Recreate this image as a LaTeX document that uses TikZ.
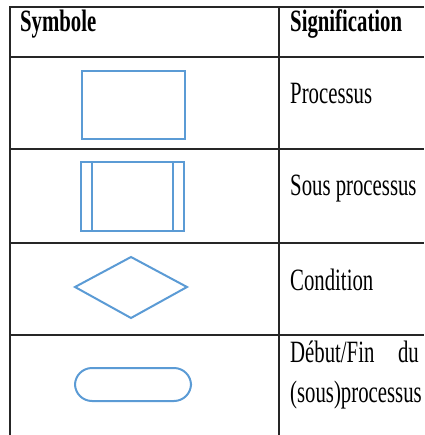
\documentclass[tikz,border=0pt]{standalone}
\usepackage{fontspec}
\setmainfont[FakeStretch=0.67]{Liberation Serif}
\definecolor{symblue}{HTML}{5B9BD5}
\definecolor{rule}{gray}{0.15}
\tikzset{
  gridline/.style={draw=rule, line width=1.4pt},
  symbol/.style={draw=symblue, line width=2pt, line join=miter},
  cell/.style={anchor=base west, inner sep=0pt, font=\fontsize{31}{36}\selectfont},
  head/.style={cell, font=\fontsize{31}{36}\selectfont\bfseries},
}
\begin{document}
\begin{tikzpicture}[x=1pt, y=-1pt]
  \useasboundingbox (0,0) rectangle (424,435);
  % table frame
  \draw[gridline] (424,7) -- (10,7) -- (10,435);
  \draw[gridline] (279,7) -- (279,435);
  \foreach \yy in {57,149,243,335}
    \draw[gridline] (10,\yy) -- (424,\yy);

  % header
  \node[head] (hsym) at (20,32) {Symbole};
  \node[head] (hsig) at (290,32) {Signification};

  % process
  \draw[symbol] (82,71) rectangle (185,139);
  \node[cell] (tproc) at (290,104) {Processus};

  % sub-process
  \draw[symbol] (81,162) rectangle (184,231);
  \draw[symbol] (92,162) -- (92,231);
  \draw[symbol] (173,162) -- (173,231);
  \node[cell] (tsub) at (290,196) {Sous processus};

  % condition
  \draw[symbol] (131,257) -- (187,287) -- (131,318) -- (75,287) -- cycle;
  \node[cell] (tcond) at (290,290) {Condition};

  % start / end
  \draw[symbol, rounded corners=17pt] (75,368) rectangle (191,401);
  \node[cell] (tstart) at (290,362) {Début/Fin};
  \node[cell, anchor=base east] (tdu) at (419,362) {du};
  \node[cell] (tsous) at (290,402) {(sous)processus};
\end{tikzpicture}
\end{document}
